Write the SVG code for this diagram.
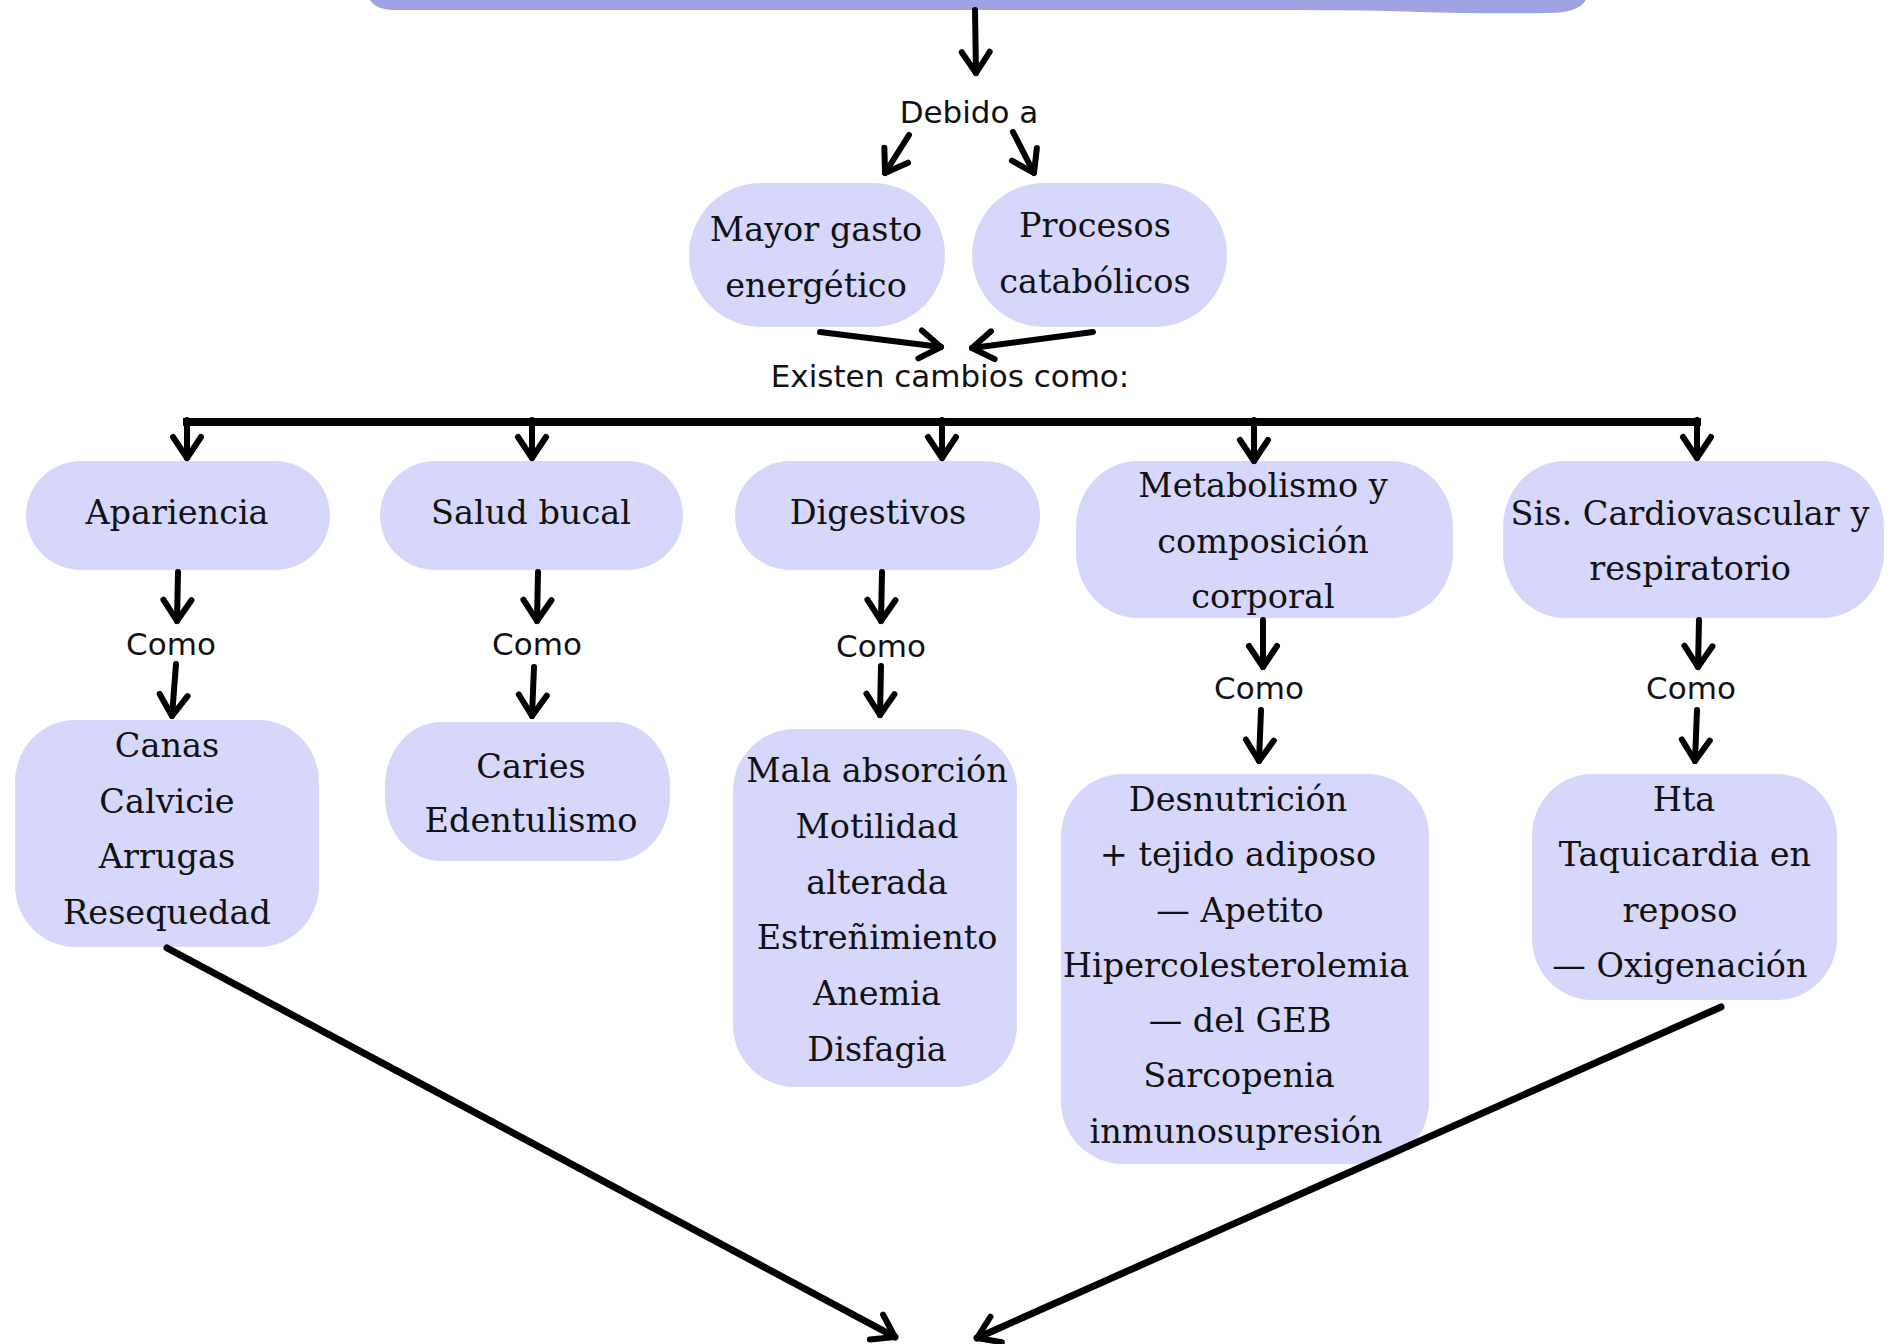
<svg xmlns="http://www.w3.org/2000/svg" width="1892" height="1344" viewBox="0 0 1892 1344">
<style>
.node{fill:#D6D7FA}
.top{fill:#9FA3E3}
.t{font-family:"DejaVu Serif","Liberation Serif",serif;font-size:33.5px;fill:#111;text-anchor:middle}
.l{font-family:"DejaVu Sans","Noto Sans",sans-serif;font-size:31px;fill:#111;text-anchor:middle}
.c{fill:none;stroke:#000;stroke-width:6;stroke-linecap:round}
.bar{fill:none;stroke:#000;stroke-width:8}
.big{fill:none;stroke:#000;stroke-width:7;stroke-linecap:round}
</style>
<defs>
<marker id="ah" markerUnits="userSpaceOnUse" viewBox="-30 -20 36 40" refX="0" refY="0" markerWidth="36" markerHeight="40" orient="auto" overflow="visible">
<path d="M-21,-14 L0,0 L-21,14" fill="none" stroke="#000" stroke-width="6" stroke-linecap="round" stroke-linejoin="round"/>
</marker>
</defs>
<rect width="1892" height="1344" fill="#fff"/>

<g id="node-top">
<path class="top" d="M362,-40 L1592,-40 L1586,0 Q1578,13 1548,13 Q1480,14 1420,12 Q1370,10 1300,10 L395,10 Q376,10 370,0 Z"/>
</g>

<g id="node-mayor">
<rect class="node" x="689" y="183" width="256" height="144" rx="72" ry="72"/>
<text class="t" x="816" y="241">Mayor gasto</text>
<text class="t" x="816" y="297">energético</text>
</g>
<g id="node-procesos">
<rect class="node" x="972" y="183" width="255" height="144" rx="72" ry="72"/>
<text class="t" x="1095" y="237">Procesos</text>
<text class="t" x="1095" y="293">catabólicos</text>
</g>

<g id="label-debido"><text class="l" x="969" y="123">Debido a</text></g>
<g id="label-existen"><text class="l" x="950" y="387">Existen cambios como:</text></g>

<g id="node-apariencia">
<rect class="node" x="26" y="461" width="304" height="109" rx="56" ry="54"/>
<text class="t" x="177" y="524">Apariencia</text>
</g>
<g id="node-salud">
<rect class="node" x="380" y="461" width="303" height="109" rx="56" ry="54"/>
<text class="t" x="531" y="524">Salud bucal</text>
</g>
<g id="node-digestivos">
<rect class="node" x="735" y="461" width="305" height="109" rx="56" ry="54"/>
<text class="t" x="878" y="524">Digestivos</text>
</g>
<g id="node-metabolismo">
<rect class="node" x="1076" y="461" width="377" height="157" rx="62" ry="66"/>
<text class="t" x="1263" y="497">Metabolismo y</text>
<text class="t" x="1263" y="553">composición</text>
<text class="t" x="1263" y="608">corporal</text>
</g>
<g id="node-cardio">
<rect class="node" x="1503" y="461" width="381" height="157" rx="62" ry="66"/>
<text class="t" x="1690" y="525">Sis. Cardiovascular y</text>
<text class="t" x="1690" y="580">respiratorio</text>
</g>

<g id="label-como-1"><text class="l" x="171" y="655">Como</text></g>
<g id="label-como-2"><text class="l" x="537" y="655">Como</text></g>
<g id="label-como-3"><text class="l" x="881" y="657">Como</text></g>
<g id="label-como-4"><text class="l" x="1259" y="699">Como</text></g>
<g id="label-como-5"><text class="l" x="1691" y="699">Como</text></g>

<g id="node-canas">
<rect class="node" x="15" y="720" width="304" height="227" rx="60" ry="62"/>
<text class="t" x="167" y="757">Canas</text>
<text class="t" x="167" y="813">Calvicie</text>
<text class="t" x="167" y="868">Arrugas</text>
<text class="t" x="167" y="924">Resequedad</text>
</g>
<g id="node-caries">
<rect class="node" x="385" y="722" width="285" height="139" rx="56" ry="64"/>
<text class="t" x="531" y="778">Caries</text>
<text class="t" x="531" y="832">Edentulismo</text>
</g>
<g id="node-mala">
<rect class="node" x="733" y="729" width="284" height="358" rx="62" ry="62"/>
<text class="t" x="877" y="782">Mala absorción</text>
<text class="t" x="877" y="838">Motilidad</text>
<text class="t" x="877" y="894">alterada</text>
<text class="t" x="877" y="949">Estreñimiento</text>
<text class="t" x="877" y="1005">Anemia</text>
<text class="t" x="877" y="1061">Disfagia</text>
</g>
<g id="node-desnutricion">
<rect class="node" x="1061" y="774" width="368" height="390" rx="62" ry="62"/>
<text class="t" x="1238" y="811">Desnutrición</text>
<text class="t" x="1238" y="866">+ tejido adiposo</text>
<text class="t" x="1240" y="922">— Apetito</text>
<text class="t" x="1236" y="977">Hipercolesterolemia</text>
<text class="t" x="1240" y="1032">— del GEB</text>
<text class="t" x="1239" y="1087">Sarcopenia</text>
<text class="t" x="1236" y="1143">inmunosupresión</text>
</g>
<g id="node-hta">
<rect class="node" x="1532" y="774" width="305" height="226" rx="60" ry="62"/>
<text class="t" x="1684" y="811">Hta</text>
<text class="t" x="1685" y="866">Taquicardia en</text>
<text class="t" x="1680" y="922">reposo</text>
<text class="t" x="1680" y="977">— Oxigenación</text>
</g>

<g id="connectors">
<path class="c" d="M975,10 L976,73" marker-end="url(#ah)"/>
<path class="c" d="M909,135 L885,173" marker-end="url(#ah)"/>
<path class="c" d="M1013,132 L1034,173" marker-end="url(#ah)"/>
<path class="c" d="M820,332 L941,347" marker-end="url(#ah)"/>
<path class="c" d="M1093,332 L972,348" marker-end="url(#ah)"/>
<path class="bar" d="M183,422 H1701"/>
<path class="c" d="M187,420 V458" marker-end="url(#ah)"/>
<path class="c" d="M532,420 V458" marker-end="url(#ah)"/>
<path class="c" d="M942,420 V458" marker-end="url(#ah)"/>
<path class="c" d="M1254,420 V461" marker-end="url(#ah)"/>
<path class="c" d="M1697,420 V458" marker-end="url(#ah)"/>
<path class="c" d="M178,572 L177,621" marker-end="url(#ah)"/>
<path class="c" d="M176,664 L172,716" marker-end="url(#ah)"/>
<path class="c" d="M538,572 L537,621" marker-end="url(#ah)"/>
<path class="c" d="M534,667 L532,716" marker-end="url(#ah)"/>
<path class="c" d="M882,572 L881,621" marker-end="url(#ah)"/>
<path class="c" d="M881,666 L880,715" marker-end="url(#ah)"/>
<path class="c" d="M1263,620 L1263,667" marker-end="url(#ah)"/>
<path class="c" d="M1261,710 L1259,761" marker-end="url(#ah)"/>
<path class="c" d="M1699,620 L1698,667" marker-end="url(#ah)"/>
<path class="c" d="M1697,710 L1695,761" marker-end="url(#ah)"/>
<path class="big" d="M167,948 L895,1337" marker-end="url(#ah)"/>
<path class="big" d="M1721,1007 L977,1338" marker-end="url(#ah)"/>
</g>
</svg>
